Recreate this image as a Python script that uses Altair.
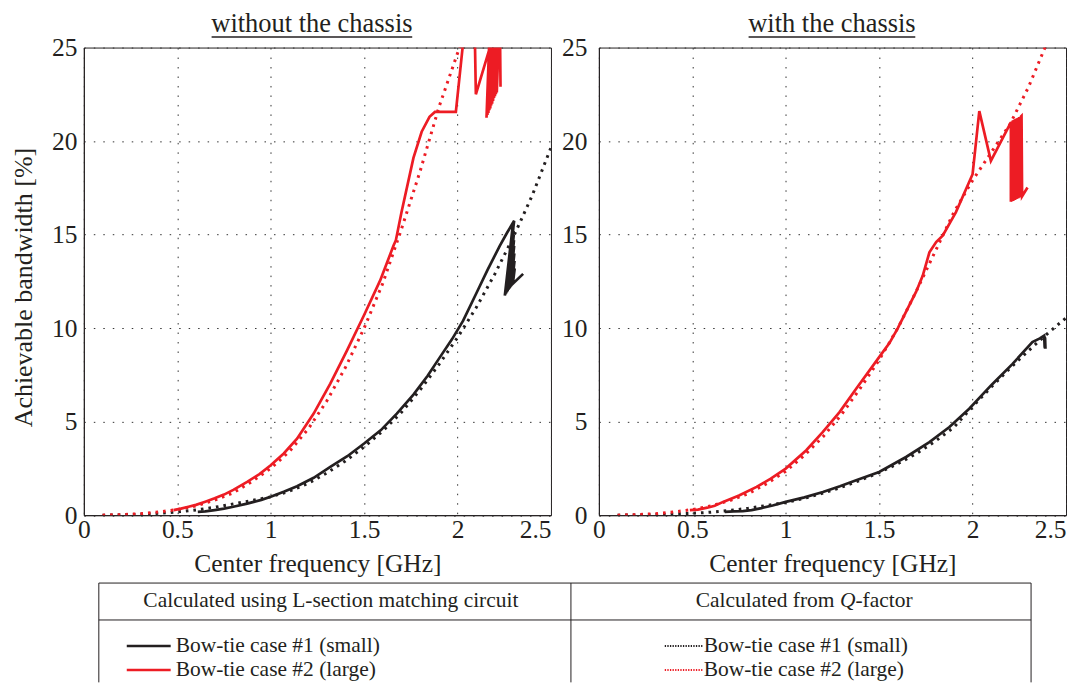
import altair as alt
import pandas as pd

# ---------------- data ----------------
# Panel 1: without the chassis
NO_SMALL_L_F = [0.61, 0.65, 0.70, 0.75, 0.80, 0.874, 0.95, 1.0, 1.07, 1.141, 1.23, 1.319, 1.41, 1.5,
                1.59, 1.675, 1.764, 1.84, 1.906, 1.97, 2.03, 2.10, 2.16, 2.226, 2.265, 2.303,
                2.253, 2.297, 2.256, 2.298, 2.26, 2.299, 2.264, 2.300, 2.268, 2.301, 2.272, 2.302,
                2.276, 2.303, 2.28, 2.304, 2.285, 2.305, 2.29, 2.306, 2.296, 2.351]
NO_SMALL_L_BW = [0.18, 0.2, 0.27, 0.35, 0.45, 0.62, 0.82, 0.98, 1.25, 1.55, 2.0, 2.58, 3.15, 3.83,
                 4.55, 5.43, 6.45, 7.45, 8.45, 9.4, 10.4, 11.85, 13.1, 14.4, 15.1, 15.74,
                 11.74, 15.6, 11.8, 15.5, 11.86, 15.4, 11.92, 15.2, 11.98, 15.0, 12.04, 14.7,
                 12.1, 14.4, 12.16, 14.0, 12.22, 13.6, 12.3, 13.2, 12.38, 12.9]

NO_SMALL_Q_F = [0.1, 0.2, 0.3, 0.4, 0.5, 0.6, 0.7, 0.8, 0.9, 1.0, 1.1, 1.2, 1.3, 1.4, 1.5, 1.6, 1.7,
                1.8, 1.9, 2.0, 2.1, 2.2, 2.3, 2.4, 2.5]
NO_SMALL_Q_BW = [0.0, 0.02, 0.05, 0.1, 0.17, 0.28, 0.42, 0.6, 0.78, 0.98, 1.28, 1.7, 2.25, 2.9, 3.65,
                 4.5, 5.5, 6.7, 8.05, 9.5, 11.1, 12.9, 14.9, 17.1, 19.65]

NO_LARGE_L_F = [0.48, 0.52, 0.56, 0.60, 0.65, 0.70, 0.75, 0.80, 0.874, 0.94, 1.0, 1.07, 1.141, 1.23,
                1.319, 1.408, 1.5, 1.586, 1.657, 1.67, 1.70, 1.764, 1.808, 1.85, 1.879, 1.991, 2.027,
                2.04, 2.09, 2.098, 2.173, 2.155, 2.176, 2.16, 2.181, 2.165, 2.186, 2.17, 2.191,
                2.175, 2.196, 2.18, 2.201, 2.185, 2.206, 2.19, 2.211, 2.195, 2.216, 2.2, 2.221,
                2.205, 2.224, 2.21, 2.226, 2.23]
NO_LARGE_L_BW = [0.27, 0.35, 0.45, 0.55, 0.72, 0.9, 1.1, 1.35, 1.78, 2.2, 2.67, 3.3, 4.09, 5.43,
                 7.03, 8.8, 10.7, 12.55, 14.4, 14.7, 16.2, 19.1, 20.5, 21.3, 21.56, 21.56, 25.0,
                 27.0, 27.0, 22.5, 25.0, 21.25, 27.0, 21.4, 27.0, 21.5, 27.0, 21.65, 27.0,
                 21.75, 27.0, 21.9, 27.0, 22.0, 27.0, 22.15, 27.0, 22.3, 27.0, 22.4, 27.0,
                 22.5, 27.0, 22.6, 27.0, 22.9]

NO_LARGE_Q_F = [0.1, 0.2, 0.3, 0.4, 0.5, 0.6, 0.7, 0.8, 0.9, 1.0, 1.1, 1.2, 1.3, 1.4, 1.5, 1.6, 1.7,
                1.8, 1.9, 2.0, 2.1]
NO_LARGE_Q_BW = [0.0, 0.03, 0.08, 0.17, 0.3, 0.5, 0.8, 1.2, 1.8, 2.5, 3.4, 4.6, 6.1, 7.9, 10.0,
                 12.4, 15.3, 18.4, 21.8, 24.7, 27.5]

# Panel 2: with the chassis
CH_SMALL_L_F = [0.674, 0.72, 0.77, 0.817, 0.87, 0.93, 1.0, 1.1, 1.199, 1.29, 1.377, 1.5, 1.644,
                1.769, 1.876, 1.982, 2.1, 2.214, 2.32, 2.36, 2.383, 2.386, 2.386, 2.388, 2.388, 2.39]
CH_SMALL_L_BW = [0.18, 0.2, 0.22, 0.27, 0.38, 0.52, 0.71, 0.95, 1.24, 1.55, 1.87, 2.31, 3.11,
                 3.91, 4.71, 5.69, 6.95, 8.09, 9.25, 9.45, 9.6, 8.95, 9.55, 8.9, 9.5, 8.9]

CH_SMALL_Q_F = [0.1, 0.2, 0.3, 0.4, 0.5, 0.6, 0.7, 0.8, 0.9, 1.0, 1.1, 1.2, 1.3, 1.4, 1.5, 1.6, 1.7,
                1.8, 1.9, 2.0, 2.1, 2.2, 2.3, 2.4, 2.5]
CH_SMALL_Q_BW = [0.0, 0.01, 0.03, 0.06, 0.1, 0.16, 0.25, 0.37, 0.52, 0.68, 0.9, 1.18, 1.5, 1.87,
                 2.28, 2.75, 3.3, 3.95, 4.7, 5.8, 6.85, 7.85, 8.8, 9.7, 10.55]

CH_LARGE_L_F = [0.487, 0.53, 0.58, 0.62, 0.665, 0.75, 0.844, 0.92, 1.0, 1.11, 1.199, 1.288, 1.377,
                1.5, 1.555, 1.6, 1.698, 1.733, 1.769, 1.805, 1.84, 1.911, 2.0, 2.036, 2.098, 2.205,
                2.205, 2.21, 2.21, 2.215, 2.215, 2.22, 2.22, 2.225, 2.225, 2.23, 2.23, 2.235,
                2.235, 2.24, 2.24, 2.245, 2.245, 2.25, 2.25, 2.255, 2.255, 2.26, 2.262, 2.265,
                2.294]
CH_LARGE_L_BW = [0.27, 0.3, 0.4, 0.5, 0.71, 1.05, 1.51, 1.95, 2.49, 3.47, 4.45, 5.51, 6.76,
                 8.45, 9.2, 10.0, 11.95, 12.8, 14.05, 14.6, 14.94, 16.2, 18.23, 21.6, 18.94, 21.0,
                 16.75, 21.05, 16.78, 21.1, 16.8, 21.12, 16.83, 21.15, 16.85, 21.18, 16.88, 21.2,
                 16.9, 21.22, 16.93, 21.25, 16.95, 21.28, 16.98, 21.3, 17.0, 21.32, 21.34, 17.05,
                 17.52]

CH_LARGE_Q_F = [0.1, 0.2, 0.3, 0.4, 0.5, 0.6, 0.7, 0.8, 0.9, 1.0, 1.1, 1.2, 1.3, 1.4, 1.5, 1.6, 1.7,
                1.8, 1.9, 2.0, 2.1, 2.2, 2.3, 2.4, 2.5]
CH_LARGE_Q_BW = [0.0, 0.03, 0.08, 0.17, 0.3, 0.5, 0.78, 1.15, 1.7, 2.35, 3.2, 4.2, 5.4, 6.8, 8.3,
                 10.0, 12.0, 14.1, 16.2, 17.9, 19.4, 20.9, 22.9, 25.3, 27.8]

X_TICKS = [0, 0.5, 1, 1.5, 2, 2.5]
Y_TICKS = [0, 5, 10, 15, 20, 25]

TITLE_LEFT = "without the chassis"
TITLE_RIGHT = "with the chassis"
X_TITLE = "Center frequency [GHz]"
Y_TITLE = "Achievable bandwidth [%]"
HEAD_LEFT = "Calculated using L-section matching circuit"
HEAD_RIGHT = ["Calculated from", "Q", "-factor"]
ENTRY_1 = "Bow-tie case #1 (small)"
ENTRY_2 = "Bow-tie case #2 (large)"

# ---------------- style ----------------
RED = "#ED1C24"
BLACK = "#231F20"
FONT = "Liberation Serif"
W, H = 468, 468.5
SPACING = 48
TICK_FS = 25.5
AXT_FS = 25.5
LEG_FS = 21.5


def df_of(f, bw):
    return pd.DataFrame({"f": f, "bw": bw, "i": list(range(len(f)))})


xs = alt.Scale(domain=[0, 2.5], nice=False, zero=False)
ys = alt.Scale(domain=[0, 25], nice=False)


def x_axis():
    return alt.Axis(
        title=X_TITLE, values=X_TICKS, format="~g", grid=True, gridDash=[1.5, 8],
        gridColor="#333333", gridWidth=1, ticks=False, domainColor=BLACK,
        labelFont=FONT, labelFontSize=TICK_FS, labelColor=BLACK, labelPadding=2,
        labelOverlap=False,
        labelAlign={"condition": {"test": "datum.value == 2.5", "value": "right"}, "value": "center"},
        titleFont=FONT, titleFontSize=AXT_FS, titleFontWeight="normal", titleColor=BLACK,
        titleY=56, titleBaseline="alphabetic",
    )


def y_axis(left):
    kw = dict(
        values=Y_TICKS, format="~g", grid=True, gridDash=[1.5, 8], gridColor="#333333",
        gridWidth=1, ticks=False, domainColor=BLACK, labelFont=FONT, labelFontSize=TICK_FS,
        labelColor=BLACK, labelPadding=7 if left else 12, labelOverlap=False,
    )
    if left:
        kw.update(title=Y_TITLE, titleFont=FONT, titleFontSize=26, titleFontWeight="normal",
                  titleColor=BLACK, titleX=-52, titleY=240, titleAlign="center",
                  titleBaseline="alphabetic", titleAngle=270)
    else:
        kw.update(title="")
    return alt.Axis(**kw)


def line(f, bw, color, dotted, left):
    kw = dict(clip=True, color=color, strokeWidth=3 if dotted else 2.7, strokeCap="butt")
    if dotted:
        kw["strokeDash"] = [2.6, 5]
    return alt.Chart(df_of(f, bw)).mark_line(**kw).encode(
        x=alt.X("f:Q", scale=xs, axis=x_axis()),
        y=alt.Y("bw:Q", scale=ys, axis=y_axis(left)),
        order="i:Q",
    )


def text_layer(txt, x, y, size, align="center", baseline="alphabetic", style="normal"):
    return alt.Chart(pd.DataFrame({"t": [txt]})).mark_text(
        font=FONT, fontSize=size, align=align, baseline=baseline, color=BLACK, fontStyle=style
    ).encode(text="t:N", x=alt.value(x), y=alt.value(y))


def rule_layer(x, x2, y, y2, color=BLACK, width=1, dash=None):
    kw = dict(color=color, strokeWidth=width)
    if dash:
        kw["strokeDash"] = dash
    return alt.Chart(pd.DataFrame({"a": [0]})).mark_rule(**kw).encode(
        x=alt.value(x), x2=alt.value(x2), y=alt.value(y), y2=alt.value(y2))


# ---------------- left panel ----------------
left_layers = [
    line(NO_SMALL_Q_F, NO_SMALL_Q_BW, BLACK, True, True),
    line(NO_LARGE_Q_F, NO_LARGE_Q_BW, RED, True, True),
    line(NO_SMALL_L_F, NO_SMALL_L_BW, BLACK, False, True),
    line(NO_LARGE_L_F, NO_LARGE_L_BW, RED, False, True),
    text_layer(TITLE_LEFT, 228.5, -15.5, 26.5),
    rule_layer(128, 329, -10.5, -10.5, BLACK, 1.5),
]

# legend box (drawn below both panels, in the left panel's pixel frame)
BX0, BX1, BXM = 15, 949, 488
BY0, BYM, BY1 = 536.5, 573.5, 636
ROW1, ROW2 = 599.5, 623.5
HEAD_Y = 554.5
legend_layers = [
    rule_layer(BX0, BX1, BY0, BY0),
    rule_layer(BX0, BX1, BYM, BYM),
    rule_layer(BX0, BX0, BY0, BY1),
    rule_layer(BXM, BXM, BY0, BY1),
    rule_layer(BX1, BX1, BY0, BY1),
    text_layer(HEAD_LEFT, 247.5, HEAD_Y, LEG_FS, baseline="middle"),
    text_layer(HEAD_RIGHT[0], 752, HEAD_Y, LEG_FS, align="right", baseline="middle"),
    text_layer(HEAD_RIGHT[1], 757.5, HEAD_Y, LEG_FS, align="left", baseline="middle", style="italic"),
    text_layer(HEAD_RIGHT[2], 773, HEAD_Y, LEG_FS, align="left", baseline="middle"),
    rule_layer(43, 87, ROW1, ROW1, BLACK, 2.5),
    rule_layer(43, 87, ROW2, ROW2, RED, 2.5),
    text_layer(ENTRY_1, 92, ROW1, LEG_FS, align="left", baseline="middle"),
    text_layer(ENTRY_2, 92, ROW2, LEG_FS, align="left", baseline="middle"),
    rule_layer(582, 620, ROW1, ROW1, BLACK, 2, [1.3, 1.3]),
    rule_layer(582, 620, ROW2, ROW2, RED, 2, [1.3, 1.3]),
    text_layer(ENTRY_1, 621, ROW1, LEG_FS, align="left", baseline="middle"),
    text_layer(ENTRY_2, 621, ROW2, LEG_FS, align="left", baseline="middle"),
]

left = alt.layer(*(left_layers + legend_layers)).properties(width=W, height=H)

# ---------------- right panel ----------------
right = alt.layer(
    line(CH_SMALL_Q_F, CH_SMALL_Q_BW, BLACK, True, False),
    line(CH_LARGE_Q_F, CH_LARGE_Q_BW, RED, True, False),
    line(CH_SMALL_L_F, CH_SMALL_L_BW, BLACK, False, False),
    line(CH_LARGE_L_F, CH_LARGE_L_BW, RED, False, False),
    text_layer(TITLE_RIGHT, 233.5, -15.5, 26.5),
    rule_layer(150, 317, -10.5, -10.5, BLACK, 1.5),
).properties(width=W, height=H)

chart = alt.hconcat(left, right, spacing=SPACING, bounds="flush").resolve_scale(
    x="independent", y="independent"
).properties(
    padding={"left": 10, "top": 10, "right": 2, "bottom": 0},
    background="white",
).configure_view(stroke=BLACK, strokeWidth=1)

chart.save("out.html", embed_options={"renderer": "svg", "actions": False})
